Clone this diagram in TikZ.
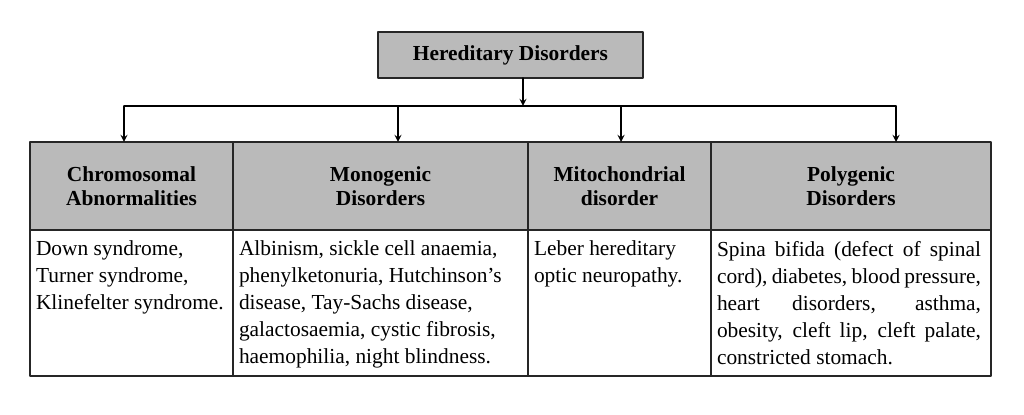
\documentclass[tikz,border=0pt]{standalone}
\usepackage{fontspec}
\setmainfont{Liberation Serif}
\usetikzlibrary{positioning,arrows}
\begin{document}
\begin{tikzpicture}[x=0.5pt,y=-0.5pt,line join=round,line cap=round,>=stealth,
	font=\fontsize{10.7}{13.5}\selectfont,every node/.style={outer sep=0pt},
	box/.style={draw=black!85,line width=0.7pt,fill=black!27},
	hcell/.style={box,minimum height=44pt,inner sep=0pt,align=center,font=\fontsize{10.7}{12}\selectfont\bfseries},
	bcell/.style={draw=black!85,line width=0.7pt,minimum height=73pt,inner sep=0pt},
	txt/.style={inner sep=0pt,align=left}]
	\useasboundingbox (0,0) rectangle (1024,415);
	\node[box,minimum width=132.5pt,minimum height=23pt,font=\fontsize{10.7}{12}\selectfont\bfseries] (top) at (510.5,55) {Hereditary Disorders};
	\node[hcell,minimum width=101.5pt,anchor=north west] (h1) at (30,142) {Chromosomal\\Abnormalities};
	\node[hcell,minimum width=147.5pt,right=0pt of h1] (h2) {Monogenic\\Disorders};
	\node[hcell,minimum width=91.5pt,right=0pt of h2] (h3) {Mitochondrial\\disorder};
	\node[hcell,minimum width=140pt,right=0pt of h3] (h4) {Polygenic\\Disorders};
	\node[bcell,minimum width=101.5pt,below=0pt of h1] (b1) {};
	\node[bcell,minimum width=147.5pt,below=0pt of h2] (b2) {};
	\node[bcell,minimum width=91.5pt,below=0pt of h3] (b3) {};
	\node[bcell,minimum width=140pt,below=0pt of h4] (b4) {};
	\node[txt,below right=5.5pt and 3pt of b1.north west] (t1) {Down syndrome,\\Turner syndrome,\\Klinefelter syndrome.};
	\node[txt,below right=5.5pt and 3pt of b2.north west] (t2) {Albinism, sickle cell anaemia,\\phenylketonuria, Hutchinson’s\\disease, Tay-Sachs disease,\\galactosaemia, cystic fibrosis,\\haemophilia, night blindness.};
	\node[txt,below right=5.5pt and 3pt of b3.north west] (t3) {Leber hereditary\\optic neuropathy.};
	\node[txt,align=justify,text width=132pt,below right=5.5pt and 3pt of b4.north west] (t4) {Spina bifida (defect of spinal\linebreak cord), diabetes, blood pressure,\linebreak heart disorders, asthma,\linebreak obesity, cleft lip, cleft palate,\linebreak constricted stomach.};
	\coordinate (hub) at (523,106);
	\coordinate (a1) at (124,106);
	\coordinate (a2) at (398,106);
	\coordinate (a3) at (621,106);
	\coordinate (a4) at (896,106);
	\draw[->,line width=0.6pt] (top.south -| hub) -- (hub);
	\draw[line width=0.6pt] (a1) -- (a4);
	\foreach \i in {1,...,4}
		\draw[->,line width=0.6pt] (a\i) -- (a\i |- h\i.north);
\end{tikzpicture}
\end{document}
